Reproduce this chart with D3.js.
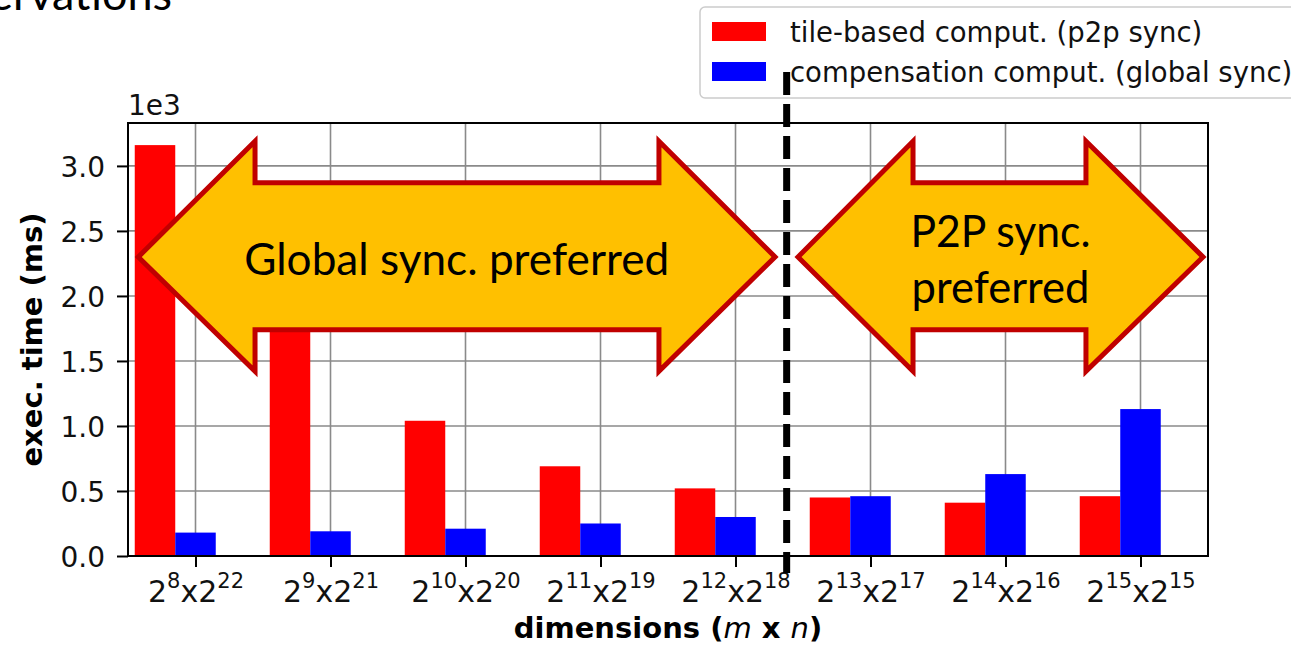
<!DOCTYPE html>
<html>
<head>
<meta charset="utf-8">
<script src="https://cdn.jsdelivr.net/npm/d3@7"></script>
<style>
  html, body { margin: 0; padding: 0; background: #fff; overflow: hidden; }
  svg { display: block; }
</style>
</head>
<body>
<svg id="chart" width="1291" height="647"></svg>
<script>
// values in units of 1e3 ms
const mExps = [8, 9, 10, 11, 12, 13, 14, 15];
const nExps = [22, 21, 20, 19, 18, 17, 16, 15];
const tileBased = [3.16, 1.85, 1.04, 0.69, 0.52, 0.45, 0.41, 0.46];
const compensation = [0.18, 0.19, 0.21, 0.25, 0.30, 0.46, 0.63, 1.13];
const yTicks = [0, 0.5, 1.0, 1.5, 2.0, 2.5, 3.0];
const seriesNames = ['tile-based comput. (p2p sync)', 'compensation comput. (global sync)'];
const seriesColors = ['#ff0000', '#0000ff'];

const svg = d3.select('#chart');
const plotL = 128, plotR = 1208, plotT = 123, plotB = 556;

const x = d3.scaleLinear().domain([-0.5, 7.5]).range([plotL, plotR]);
const y = d3.scaleLinear().domain([0, 3.33]).range([plotB, plotT]);
const barW = 0.3;

// cut-off slide title
svg.append('text')
    .attr('x', 172).attr('y', 10)
    .attr('text-anchor', 'end')
    .style('font-family', 'Lato, "Open Sans", sans-serif')
    .style('font-size', '45px')
    .text('Observations');

// grid
const grid = svg.append('g').attr('class', 'grid');
grid.selectAll('line.v')
    .data(mExps)
    .enter().append('line')
        .attr('class', 'v')
        .attr('x1', (d, i) => x(i)).attr('x2', (d, i) => x(i))
        .attr('y1', plotT).attr('y2', plotB);
grid.selectAll('line.h')
    .data(yTicks)
    .enter().append('line')
        .attr('class', 'h')
        .attr('x1', plotL).attr('x2', plotR)
        .attr('y1', d => y(d)).attr('y2', d => y(d));
grid.selectAll('line')
    .style('stroke', '#8a8a8a')
    .style('stroke-width', 1.6);

// bars
const bars = svg.append('g');
bars.selectAll('rect.red')
    .data(tileBased)
    .enter().append('rect')
        .attr('class', 'red')
        .attr('x', (d, i) => x(i - 1.5 * barW))
        .attr('width', x(barW) - x(0))
        .attr('y', d => y(d))
        .attr('height', d => y(0) - y(d))
        .attr('fill', seriesColors[0]);
bars.selectAll('rect.blue')
    .data(compensation)
    .enter().append('rect')
        .attr('class', 'blue')
        .attr('x', (d, i) => x(i - 0.5 * barW))
        .attr('width', x(barW) - x(0))
        .attr('y', d => y(d))
        .attr('height', d => y(0) - y(d))
        .attr('fill', seriesColors[1]);

// axes
const yAxis = d3.axisLeft(y).tickValues(yTicks).tickSize(11).tickPadding(12)
    .tickFormat(d3.format('.1f'));
const yg = svg.append('g')
    .attr('transform', 'translate(' + plotL + ',0)')
    .call(yAxis);
yg.select('.domain').remove();
yg.selectAll('line').style('stroke', '#000').style('stroke-width', 2);
yg.selectAll('text')
    .attr('dy', '0.36em')
    .style('font-family', '"DejaVu Sans", sans-serif')
    .style('font-size', '28px')
    .style('fill', '#111');

const xAxis = d3.axisBottom(x).tickValues(d3.range(mExps.length)).tickSize(11);
const xg = svg.append('g')
    .attr('transform', 'translate(0,' + plotB + ')')
    .call(xAxis);
xg.select('.domain').remove();
xg.selectAll('line').style('stroke', '#000').style('stroke-width', 2);
xg.selectAll('text')
    .attr('y', 46).attr('dy', 0)
    .style('font-family', '"DejaVu Sans", sans-serif')
    .style('font-size', '30px')
    .style('fill', '#111')
    .text(null)
    .each(function(d) {
        const t = d3.select(this);
        t.append('tspan').text('2');
        t.append('tspan').attr('dy', -14).style('font-size', '21px').text(mExps[d]);
        t.append('tspan').attr('dy', 14).text('x2');
        t.append('tspan').attr('dy', -14).style('font-size', '21px').text(nExps[d]);
    });

// frame
svg.append('rect')
    .attr('x', plotL).attr('y', plotT)
    .attr('width', plotR - plotL).attr('height', plotB - plotT)
    .attr('fill', 'none')
    .style('stroke', '#000')
    .style('stroke-width', 2);

svg.append('text')
    .attr('x', plotL).attr('y', 115)
    .style('font-family', '"DejaVu Sans", sans-serif')
    .style('font-size', '28px')
    .style('fill', '#111')
    .text('1e3');

// axis labels
svg.append('text')
    .attr('transform', 'translate(42,' + (plotT + plotB) / 2 + ') rotate(-90)')
    .attr('text-anchor', 'middle')
    .style('font-family', '"DejaVu Sans", sans-serif')
    .style('font-size', '29px')
    .style('font-weight', 'bold')
    .text('exec. time (ms)');

const xl = svg.append('text')
    .attr('x', (plotL + plotR) / 2).attr('y', 638)
    .attr('text-anchor', 'middle')
    .style('font-family', '"DejaVu Sans", sans-serif')
    .style('font-size', '29px')
    .style('font-weight', 'bold');
xl.append('tspan').text('dimensions (');
xl.append('tspan').style('font-style', 'italic').style('font-weight', 'normal').text('m');
xl.append('tspan').text(' x ');
xl.append('tspan').style('font-style', 'italic').style('font-weight', 'normal').text('n');
xl.append('tspan').text(')');

// annotation arrows (in data coordinates)
const arrowPath = (x0, x1, x2, x3) => {
    const yc = y(2.30), yh0 = y(3.19), ys0 = y(2.87), ys1 = y(1.74), yh1 = y(1.42);
    return 'M' + x(x0) + ',' + yc +
        ' L' + x(x1) + ',' + yh0 + ' L' + x(x1) + ',' + ys0 +
        ' L' + x(x2) + ',' + ys0 + ' L' + x(x2) + ',' + yh0 +
        ' L' + x(x3) + ',' + yc +
        ' L' + x(x2) + ',' + yh1 + ' L' + x(x2) + ',' + ys1 +
        ' L' + x(x1) + ',' + ys1 + ' L' + x(x1) + ',' + yh1 + ' Z';
};
const arrows = [
    { pts: [-0.424, 0.441, 3.433, 4.293], lines: ['Global sync. preferred'], ys: [275], widths: [425] },
    { pts: [4.463, 5.315, 6.596, 7.463], lines: ['P2P sync.', 'preferred'], ys: [247, 303], widths: [180, 178] }
];
arrows.forEach(a => {
    svg.append('path')
        .attr('d', arrowPath(...a.pts))
        .attr('fill', '#ffc000')
        .attr('stroke', '#c00000')
        .attr('stroke-width', 5)
        .attr('stroke-linejoin', 'miter');
    const cx = (x(a.pts[0]) + x(a.pts[3])) / 2;
    a.lines.forEach((l, i) => {
        svg.append('text')
            .attr('x', cx).attr('y', a.ys[i])
            .attr('text-anchor', 'middle')
            .attr('textLength', a.widths[i])
            .attr('lengthAdjust', 'spacingAndGlyphs')
            .style('font-family', 'Lato, "Open Sans", sans-serif')
            .style('font-size', '44px')
            .style('fill', '#000')
            .text(l);
    });
});

// legend
const lg = svg.append('g');
lg.append('rect')
    .attr('x', 700).attr('y', 7)
    .attr('width', 640).attr('height', 91)
    .attr('rx', 5)
    .attr('fill', '#fff')
    .style('stroke', '#cccccc')
    .style('stroke-width', 1.5);
seriesNames.forEach((n, i) => {
    lg.append('rect')
        .attr('x', 712).attr('y', 22 + i * 40)
        .attr('width', 54).attr('height', 19)
        .attr('fill', seriesColors[i]);
    lg.append('text')
        .attr('x', 790).attr('y', 42 + i * 40)
        .style('font-family', '"DejaVu Sans", sans-serif')
        .style('font-size', '27.5px')
        .style('fill', '#111')
        .text(n);
});

// divider
svg.append('line')
    .attr('x1', x(4.379)).attr('x2', x(4.379))
    .attr('y1', 72).attr('y2', 573)
    .style('stroke', '#000')
    .style('stroke-width', 7)
    .style('stroke-dasharray', '23,9');
</script>
</body>
</html>
